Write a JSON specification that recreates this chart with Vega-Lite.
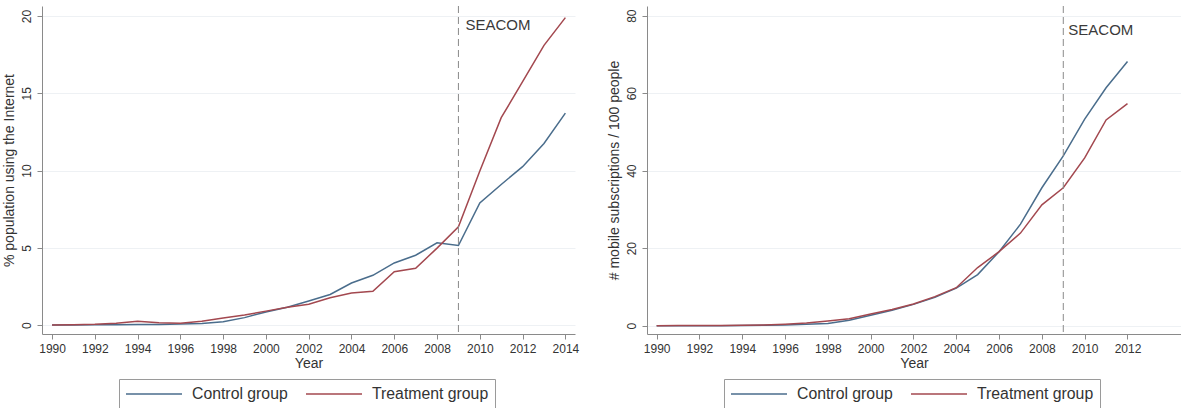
{
  "$schema": "https://vega.github.io/schema/vega-lite/v6.json",
  "padding": {"left": 2, "top": 5, "right": 0, "bottom": 0},
  "background": "white",
  "bounds": "flush",
  "spacing": 72,
  "config": {
    "font": "Liberation Sans",
    "view": {"stroke": null},
    "axis": {
      "domainColor": "#8a8a8a",
      "tickColor": "#8a8a8a",
      "tickSize": 5,
      "labelColor": "#333333",
      "titleColor": "#333333",
      "labelFontSize": 12,
      "titleFontSize": 14,
      "titleFontWeight": "normal",
      "gridColor": "#eef1f4",
      "gridWidth": 1
    },
    "legend": {
      "orient": "none",
      "legendX": 77,
      "legendY": 373,
      "direction": "horizontal",
      "title": null,
      "strokeColor": "#9a9a9a",
      "padding": 6,
      "symbolType": "stroke",
      "symbolSize": 3136,
      "symbolStrokeWidth": 1.5,
      "clipHeight": 18,
      "labelOffset": 9,
      "labelFontSize": 15.8,
      "labelColor": "#333333",
      "columnPadding": 17
    }
  },
  "datasets": {
    "internet": [
      {"year": 1990, "group": "Control group", "value": 0.0},
      {"year": 1991, "group": "Control group", "value": 0.01},
      {"year": 1992, "group": "Control group", "value": 0.02},
      {"year": 1993, "group": "Control group", "value": 0.02},
      {"year": 1994, "group": "Control group", "value": 0.03},
      {"year": 1995, "group": "Control group", "value": 0.04},
      {"year": 1996, "group": "Control group", "value": 0.06},
      {"year": 1997, "group": "Control group", "value": 0.1},
      {"year": 1998, "group": "Control group", "value": 0.22},
      {"year": 1999, "group": "Control group", "value": 0.48},
      {"year": 2000, "group": "Control group", "value": 0.85},
      {"year": 2001, "group": "Control group", "value": 1.15},
      {"year": 2002, "group": "Control group", "value": 1.55},
      {"year": 2003, "group": "Control group", "value": 1.98},
      {"year": 2004, "group": "Control group", "value": 2.72},
      {"year": 2005, "group": "Control group", "value": 3.22},
      {"year": 2006, "group": "Control group", "value": 4.02},
      {"year": 2007, "group": "Control group", "value": 4.52},
      {"year": 2008, "group": "Control group", "value": 5.32},
      {"year": 2009, "group": "Control group", "value": 5.15},
      {"year": 2010, "group": "Control group", "value": 7.9},
      {"year": 2011, "group": "Control group", "value": 9.1},
      {"year": 2012, "group": "Control group", "value": 10.25},
      {"year": 2013, "group": "Control group", "value": 11.75},
      {"year": 2014, "group": "Control group", "value": 13.72},
      {"year": 1990, "group": "Treatment group", "value": 0.0},
      {"year": 1991, "group": "Treatment group", "value": 0.02},
      {"year": 1992, "group": "Treatment group", "value": 0.05},
      {"year": 1993, "group": "Treatment group", "value": 0.12},
      {"year": 1994, "group": "Treatment group", "value": 0.25},
      {"year": 1995, "group": "Treatment group", "value": 0.15},
      {"year": 1996, "group": "Treatment group", "value": 0.12},
      {"year": 1997, "group": "Treatment group", "value": 0.25},
      {"year": 1998, "group": "Treatment group", "value": 0.45},
      {"year": 1999, "group": "Treatment group", "value": 0.65},
      {"year": 2000, "group": "Treatment group", "value": 0.9},
      {"year": 2001, "group": "Treatment group", "value": 1.15},
      {"year": 2002, "group": "Treatment group", "value": 1.34},
      {"year": 2003, "group": "Treatment group", "value": 1.77},
      {"year": 2004, "group": "Treatment group", "value": 2.07},
      {"year": 2005, "group": "Treatment group", "value": 2.18},
      {"year": 2006, "group": "Treatment group", "value": 3.45},
      {"year": 2007, "group": "Treatment group", "value": 3.67},
      {"year": 2008, "group": "Treatment group", "value": 4.98},
      {"year": 2009, "group": "Treatment group", "value": 6.36},
      {"year": 2010, "group": "Treatment group", "value": 9.97},
      {"year": 2011, "group": "Treatment group", "value": 13.42},
      {"year": 2012, "group": "Treatment group", "value": 15.75},
      {"year": 2013, "group": "Treatment group", "value": 18.1},
      {"year": 2014, "group": "Treatment group", "value": 19.9}
    ],
    "mobile": [
      {"year": 1990, "group": "Control group", "value": 0.0},
      {"year": 1991, "group": "Control group", "value": 0.0},
      {"year": 1992, "group": "Control group", "value": 0.01},
      {"year": 1993, "group": "Control group", "value": 0.02},
      {"year": 1994, "group": "Control group", "value": 0.05},
      {"year": 1995, "group": "Control group", "value": 0.1},
      {"year": 1996, "group": "Control group", "value": 0.2},
      {"year": 1997, "group": "Control group", "value": 0.35},
      {"year": 1998, "group": "Control group", "value": 0.6},
      {"year": 1999, "group": "Control group", "value": 1.4},
      {"year": 2000, "group": "Control group", "value": 2.7},
      {"year": 2001, "group": "Control group", "value": 4.0},
      {"year": 2002, "group": "Control group", "value": 5.5},
      {"year": 2003, "group": "Control group", "value": 7.3},
      {"year": 2004, "group": "Control group", "value": 9.7},
      {"year": 2005, "group": "Control group", "value": 13.2},
      {"year": 2006, "group": "Control group", "value": 19.1},
      {"year": 2007, "group": "Control group", "value": 26.2},
      {"year": 2008, "group": "Control group", "value": 35.6},
      {"year": 2009, "group": "Control group", "value": 43.8},
      {"year": 2010, "group": "Control group", "value": 53.3},
      {"year": 2011, "group": "Control group", "value": 61.4},
      {"year": 2012, "group": "Control group", "value": 68.2},
      {"year": 1990, "group": "Treatment group", "value": 0.02},
      {"year": 1991, "group": "Treatment group", "value": 0.03},
      {"year": 1992, "group": "Treatment group", "value": 0.04},
      {"year": 1993, "group": "Treatment group", "value": 0.06},
      {"year": 1994, "group": "Treatment group", "value": 0.1},
      {"year": 1995, "group": "Treatment group", "value": 0.18},
      {"year": 1996, "group": "Treatment group", "value": 0.38},
      {"year": 1997, "group": "Treatment group", "value": 0.7},
      {"year": 1998, "group": "Treatment group", "value": 1.2},
      {"year": 1999, "group": "Treatment group", "value": 1.8},
      {"year": 2000, "group": "Treatment group", "value": 3.0},
      {"year": 2001, "group": "Treatment group", "value": 4.2},
      {"year": 2002, "group": "Treatment group", "value": 5.6},
      {"year": 2003, "group": "Treatment group", "value": 7.5},
      {"year": 2004, "group": "Treatment group", "value": 9.8},
      {"year": 2005, "group": "Treatment group", "value": 15.0},
      {"year": 2006, "group": "Treatment group", "value": 19.1},
      {"year": 2007, "group": "Treatment group", "value": 23.9},
      {"year": 2008, "group": "Treatment group", "value": 31.2},
      {"year": 2009, "group": "Treatment group", "value": 35.6},
      {"year": 2010, "group": "Treatment group", "value": 43.3},
      {"year": 2011, "group": "Treatment group", "value": 53.1},
      {"year": 2012, "group": "Treatment group", "value": 57.3}
    ],
    "seacomLeft": [{"year": 2009, "value": 19.9, "label": "SEACOM"}],
    "seacomRight": [{"year": 2009, "value": 78.2, "label": "SEACOM"}]
  },
  "resolve": {"legend": {"color": "independent"}, "scale": {"color": "independent", "x": "independent", "y": "independent"}},
  "hconcat": [
    {
      "width": 533,
      "height": 328,
      "layer": [
        {
          "data": {"name": "internet"},
          "mark": {"type": "line", "strokeWidth": 1.5},
          "encoding": {
            "x": {"field": "year", "type": "quantitative",
              "scale": {"domain": [1989.53, 2014.45], "nice": false, "zero": false},
              "axis": {"values": [1990,1992,1994,1996,1998,2000,2002,2004,2006,2008,2010,2012,2014], "format": "d", "title": "Year", "grid": false, "titlePadding": 2, "labelPadding": 4}},
            "y": {"field": "value", "type": "quantitative",
              "scale": {"domain": [-0.58, 20.65], "nice": false, "zero": false},
              "axis": {"values": [0,5,10,15,20], "title": "% population using the Internet", "labelAngle": -90, "grid": true, "labelPadding": 4, "titlePadding": 4}},
            "color": {"field": "group", "type": "nominal",
              "scale": {"domain": ["Control group", "Treatment group"], "range": ["#4a6d8c", "#a3484f"]}}
          }
        },
        {
          "data": {"name": "seacomLeft"},
          "mark": {"type": "rule", "color": "#8a8a8a", "strokeDash": [7, 4], "strokeWidth": 1},
          "encoding": {"x": {"field": "year", "type": "quantitative"}}
        },
        {
          "data": {"name": "seacomLeft"},
          "mark": {"type": "text", "align": "left", "baseline": "top", "dx": 7, "fontSize": 15, "color": "#3a3a3a"},
          "encoding": {
            "x": {"field": "year", "type": "quantitative"},
            "y": {"field": "value", "type": "quantitative"},
            "text": {"field": "label"}
          }
        }
      ]
    },
    {
      "width": 534,
      "height": 328,
      "layer": [
        {
          "data": {"name": "mobile"},
          "mark": {"type": "line", "strokeWidth": 1.5},
          "encoding": {
            "x": {"field": "year", "type": "quantitative",
              "scale": {"domain": [1989.55, 2014.5], "nice": false, "zero": false},
              "axis": {"values": [1990,1992,1994,1996,1998,2000,2002,2004,2006,2008,2010,2012], "format": "d", "title": "Year", "grid": false, "titlePadding": 2, "labelPadding": 4}},
            "y": {"field": "value", "type": "quantitative",
              "scale": {"domain": [-2.14, 82.5], "nice": false, "zero": false},
              "axis": {"values": [0,20,40,60,80], "title": "# mobile subscriptions / 100 people", "labelAngle": -90, "grid": true, "labelPadding": 4, "titlePadding": 4}},
            "color": {"field": "group", "type": "nominal",
              "scale": {"domain": ["Control group", "Treatment group"], "range": ["#4a6d8c", "#a3484f"]}}
          }
        },
        {
          "data": {"name": "seacomRight"},
          "mark": {"type": "rule", "color": "#8a8a8a", "strokeDash": [7, 4], "strokeWidth": 1},
          "encoding": {"x": {"field": "year", "type": "quantitative"}}
        },
        {
          "data": {"name": "seacomRight"},
          "mark": {"type": "text", "align": "left", "baseline": "top", "dx": 5, "fontSize": 15, "color": "#3a3a3a"},
          "encoding": {
            "x": {"field": "year", "type": "quantitative"},
            "y": {"field": "value", "type": "quantitative"},
            "text": {"field": "label"}
          }
        }
      ]
    }
  ]
}
